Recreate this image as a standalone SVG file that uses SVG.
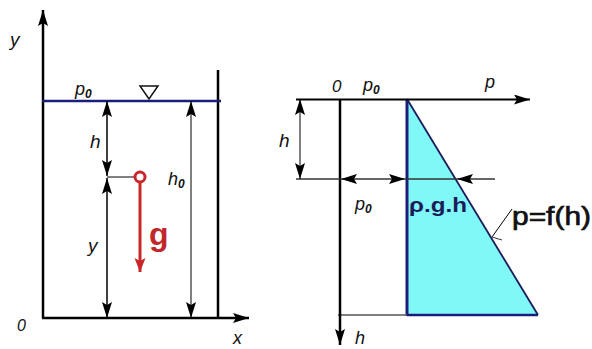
<svg xmlns="http://www.w3.org/2000/svg" width="592" height="349" viewBox="0 0 592 349">
<style>
.ax{stroke:#000;stroke-width:2.5;fill:none}
.dim{stroke:#000;stroke-width:1.5;fill:none}
.thin{stroke:#000;stroke-width:1;fill:none}
.it{font-family:"Liberation Sans",Arial,sans-serif;font-style:italic;fill:#111}
.sub{font-size:12px;font-weight:bold}
</style>
<defs>
<marker id="ah" markerUnits="userSpaceOnUse" markerWidth="17" markerHeight="11" refX="16" refY="5" orient="auto-start-reverse"><path d="M0,0 L16,5 L0,10 L3,5 z" fill="#000"/></marker>
<marker id="ahr" markerUnits="userSpaceOnUse" markerWidth="16" markerHeight="12" refX="14" refY="5.5" orient="auto"><path d="M0,0 L14,5.5 L0,11 L3,5.5 z" fill="#c8262a"/></marker>
</defs>
<rect width="592" height="349" fill="#fff"/>
<g id="left-tank">
<line class="ax" x1="43" y1="318" x2="43" y2="10" marker-end="url(#ah)"/>
<line class="ax" x1="42" y1="318" x2="249" y2="318" marker-end="url(#ah)"/>
<line class="ax" x1="218" y1="70" x2="218" y2="318"/>
<line x1="42" y1="101" x2="221" y2="101" stroke="#1c1c7a" stroke-width="2.5"/>
<path d="M140,86 L158,86 L149,99 z" fill="none" stroke="#111" stroke-width="1.5"/>
<text class="it" x="10" y="46" font-size="19">y</text>
<text class="it" x="17" y="331" font-size="16">0</text>
<text class="it" x="233" y="344" font-size="18">x</text>
<text class="it" x="75" y="95" font-size="18">p<tspan class="sub" dy="3">0</tspan></text>
</g>
<g id="connectors">
<line class="dim" x1="107" y1="101" x2="107" y2="176" marker-start="url(#ah)" marker-end="url(#ah)"/>
<line class="dim" x1="107" y1="178" x2="107" y2="318" marker-start="url(#ah)" marker-end="url(#ah)"/>
<line class="thin" x1="191" y1="101" x2="191" y2="318" marker-start="url(#ah)" marker-end="url(#ah)"/>
<line class="thin" x1="107" y1="177" x2="135" y2="177"/>
<line x1="140" y1="182" x2="140" y2="272" stroke="#c8262a" stroke-width="3" marker-end="url(#ahr)"/>
</g>
<g id="left-labels">
<circle cx="140" cy="177" r="5" fill="none" stroke="#c8262a" stroke-width="3"/>
<text class="it" x="90" y="148" font-size="19">h</text>
<text class="it" x="88" y="252" font-size="19">y</text>
<text class="it" x="168" y="185" font-size="18">h<tspan class="sub" dy="3">0</tspan></text>
<text x="149" y="245" font-family="Liberation Sans,Arial,sans-serif" font-weight="bold" font-size="32" fill="#c0282c">g</text>
</g>
<g id="right-diagram">
<path d="M407,99 L538,315 L407,315 z" fill="#80f8f8"/>
<line x1="407" y1="99" x2="538" y2="315" stroke="#1c1c5a" stroke-width="1.8"/>
<line x1="407" y1="315" x2="538" y2="315" stroke="#1c1c7a" stroke-width="2.5"/>
<line x1="407" y1="99" x2="407" y2="316" stroke="#1c1c7a" stroke-width="3"/>
<line x1="338" y1="315" x2="407" y2="315" stroke="#555" stroke-width="1.5"/>
<line class="ax" x1="340" y1="99" x2="340" y2="345" stroke-width="2" marker-end="url(#ah)"/>
<line x1="296" y1="99.5" x2="530" y2="99.5" stroke="#000" stroke-width="2" marker-end="url(#ah)"/>
<line x1="296" y1="179" x2="495" y2="179" stroke="#333" stroke-width="1.3"/>
<line class="thin" x1="300" y1="99" x2="300" y2="179" marker-start="url(#ah)" marker-end="url(#ah)"/>
<path d="M341,179 L357,174 L354,179 L357,184 z" fill="#000"/>
<path d="M405,179 L389,174 L392,179 L389,184 z" fill="#000"/>
<path d="M457,179 L473,174 L470,179 L473,184 z" fill="#000"/>
<line class="thin" x1="512" y1="209" x2="492" y2="237"/>
<line x1="492" y1="237" x2="502" y2="240" stroke="#333" stroke-width="1"/>
<text class="it" x="332" y="92" font-size="17">0</text>
<text class="it" x="363" y="91" font-size="18">p<tspan class="sub" dy="3">0</tspan></text>
<text class="it" x="485" y="88" font-size="18">p</text>
<text class="it" x="279" y="147" font-size="19">h</text>
<text class="it" x="355" y="210" font-size="18">p<tspan class="sub" dy="3">0</tspan></text>
<text class="it" x="355" y="344" font-size="18">h</text>
<text x="409" y="212" font-family="Liberation Sans,Arial,sans-serif" font-weight="bold" font-size="20" fill="#1c1c5a" textLength="58" lengthAdjust="spacingAndGlyphs">ρ.g.h</text>
<text x="512" y="225" font-family="Liberation Sans,Arial,sans-serif" font-size="26" fill="#111" stroke="#111" stroke-width="0.7" textLength="79" lengthAdjust="spacingAndGlyphs">p=f(h)</text>
</g>
</svg>
